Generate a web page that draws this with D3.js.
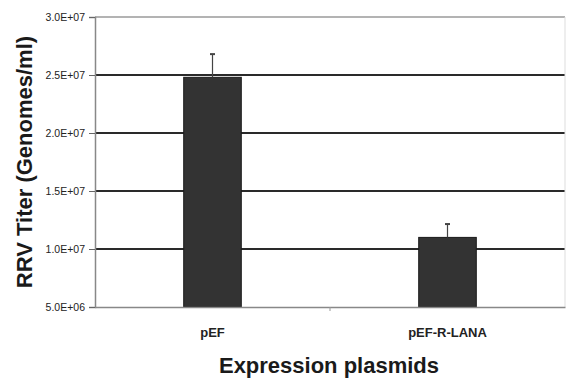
<!DOCTYPE html>
<html><head><meta charset="utf-8">
<script src="https://cdn.jsdelivr.net/npm/d3@7"></script>
<style>body{margin:0;background:#fff}svg{display:block}</style>
</head><body>
<script>
const categories = ["pEF", "pEF-R-LANA"];
const values = [24.8e6, 11.0e6];
const errors = [2.0e6, 1.15e6];
const tickValues = [5e6, 10e6, 15e6, 20e6, 25e6, 30e6];
const tickLabels = ["5.0E+06", "1.0E+07", "1.5E+07", "2.0E+07", "2.5E+07", "3.0E+07"];

const W = 566, H = 381;
const m = {left: 95, right: 1, top: 17, bottom: 74};
const svg = d3.select("body").append("svg").attr("width", W).attr("height", H)
  .style("font-family", "Arial, 'Liberation Sans', sans-serif");

const x = d3.scaleBand().domain(categories).range([m.left, W - m.right]).padding(0);
const y = d3.scaleLinear().domain([5e6, 30e6]).range([H - m.bottom, m.top]);

// gridlines
svg.append("g").selectAll("line").data(tickValues.slice(1)).join("line")
  .attr("x1", m.left).attr("x2", W - m.right)
  .attr("y1", d => y(d)).attr("y2", d => y(d))
  .attr("stroke", (d, i) => i === tickValues.length - 2 ? "#9a9a9a" : "#2a2a2a")
  .attr("stroke-width", (d, i) => i === tickValues.length - 2 ? 1.5 : 1.8);

// right faint border
svg.append("line").attr("x1", W - m.right).attr("x2", W - m.right)
  .attr("y1", m.top).attr("y2", H - m.bottom).attr("stroke", "#ddd");

// bars
const bw = x.bandwidth() * 0.245;
svg.append("g").selectAll("rect").data(categories).join("rect")
  .attr("x", d => x(d) + x.bandwidth() / 2 - bw / 2)
  .attr("width", bw)
  .attr("y", (d, i) => y(values[i]))
  .attr("height", (d, i) => y(5e6) - y(values[i]))
  .attr("fill", "#333333").attr("stroke", "#1a1a1a").attr("stroke-width", 1);

// error bars
const eg = svg.append("g").attr("stroke", "#444").attr("stroke-width", 1.2);
categories.forEach((c, i) => {
  const cx = x(c) + x.bandwidth() / 2;
  eg.append("line").attr("x1", cx).attr("x2", cx)
    .attr("y1", y(values[i])).attr("y2", y(values[i] + errors[i]));
  eg.append("line").attr("x1", cx - 2.5).attr("x2", cx + 2.5)
    .attr("y1", y(values[i] + errors[i])).attr("y2", y(values[i] + errors[i]))
    .attr("stroke-width", 2);
});

// y axis
const yAxis = d3.axisLeft(y).tickValues(tickValues)
  .tickFormat((d, i) => tickLabels[i]).tickSize(6).tickPadding(4);
const ya = svg.append("g").attr("transform", `translate(${m.left},0)`).call(yAxis);
ya.select(".domain").attr("stroke", "#888").attr("stroke-width", 1.5);
ya.selectAll(".tick line").attr("stroke", "#666");
ya.selectAll(".tick text").attr("font-size", 10.5).attr("fill", "#222")
  .attr("font-family", "Arial, 'Liberation Sans', sans-serif");

// x axis
const xa = svg.append("g").attr("transform", `translate(0,${H - m.bottom})`)
  .call(d3.axisBottom(x).tickSize(0).tickPadding(21));
xa.select(".domain").attr("stroke", "#888").attr("stroke-width", 1.5);
xa.selectAll(".tick text").attr("font-size", 13).attr("font-weight", "bold").attr("fill", "#222");
// mid tick between categories
svg.append("line").attr("x1", x(categories[1])).attr("x2", x(categories[1]))
  .attr("y1", H - m.bottom).attr("y2", H - m.bottom + 4).attr("stroke", "#999");

// axis titles
svg.append("text").attr("transform", `translate(32,${(m.top + H - m.bottom) / 2}) rotate(-90)`)
  .attr("text-anchor", "middle").attr("font-size", 22).attr("font-weight", "bold")
  .attr("fill", "#1a1a1a").text("RRV Titer (Genomes/ml)");
svg.append("text").attr("x", 329).attr("y", 373)
  .attr("text-anchor", "middle").attr("font-size", 22).attr("font-weight", "bold")
  .attr("fill", "#1a1a1a").text("Expression plasmids");
</script>
</body></html>
